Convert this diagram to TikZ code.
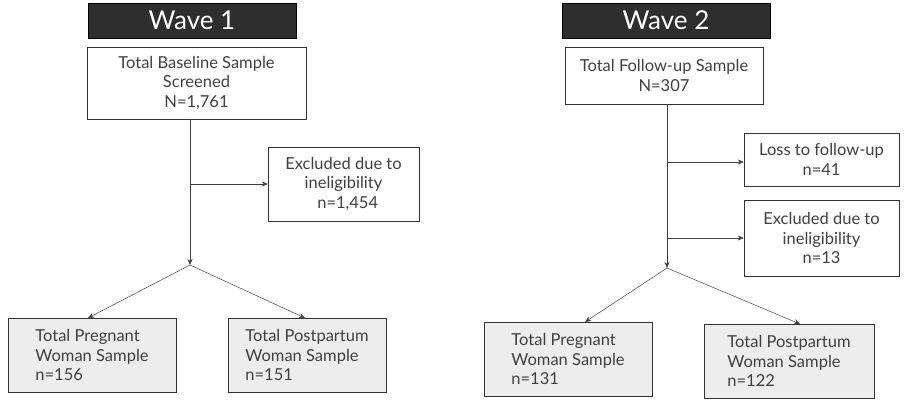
\documentclass[tikz,border=0pt]{standalone}
\usepackage{fontspec}
\setmainfont{Lato}
\usetikzlibrary{arrows.meta}
\begin{document}
\begin{tikzpicture}[x=1pt,y=-1pt,
  hdr/.style={draw=black,fill=black!82,text=white,font=\fontsize{26}{30}\selectfont,inner sep=0},
  box/.style={draw=black!80,fill=white,text=black!75,font=\fontsize{16.5}{19.5}\selectfont,align=center,inner sep=0},
  gbox/.style={box,fill=black!7},
  ar/.style={-{Stealth[length=6pt,width=5pt]},black!75,line width=0.5pt},
  ln/.style={black!75,line width=0.5pt}]
\useasboundingbox (0,0) rectangle (909,405);
% Wave 1
\node[hdr,minimum width=208,minimum height=35] (h1) at (192,20.5) {Wave 1};
\node[box,minimum width=219,minimum height=72] (a1) at (196.5,83) {Total Baseline Sample\\Screened\\N=1,761};
\coordinate (s1) at (190,265);
\coordinate (m1) at (190,184);
\node[box,minimum width=151,minimum height=74] (e1) at (343.5,184) {Excluded due to\\ineligibility\\\ \ n=1,454};
\node[gbox,minimum width=168,minimum height=74,align=left] (p1) at (92,355) {Total Pregnant\\Woman Sample\\n=156};
\node[gbox,minimum width=158,minimum height=74,align=left] (q1) at (307,355) {Total Postpartum\\Woman Sample\\n=151};
\draw[ar] (a1.south -| s1) -- (s1);
\draw[ar] (m1) -- (e1.west);
\draw[ar] (s1) -- (88,318) coordinate (t1);
\draw[ar] (s1) -- (305,318) coordinate (t2);
% Wave 2
\node[hdr,minimum width=208,minimum height=35] (h2) at (666,20.5) {Wave 2};
\node[box,minimum width=198,minimum height=57] (a2) at (664,75.5) {Total Follow-up Sample\\N=307};
\coordinate (s2) at (667,268);
\coordinate (m2) at (667,162);
\coordinate (m3) at (667,238);
\node[box,minimum width=155,minimum height=53] (l2) at (821.5,159.5) {Loss to follow-up\\n=41};
\node[box,minimum width=155,minimum height=76] (e2) at (821.5,238) {Excluded due to\\ineligibility\\n=13};
\node[gbox,minimum width=168,minimum height=74,align=left] (p2) at (568,359) {Total Pregnant\\Woman Sample\\n=131};
\node[gbox,minimum width=170,minimum height=74,align=left] (q2) at (789,361) {Total Postpartum\\Woman Sample\\n=122};
\draw[ar] (a2.south -| s2) -- (s2);
\draw[ar] (m2) -- (m2 -| l2.west);
\draw[ar] (m3) -- (m3 -| e2.west);
\draw[ar] (s2) -- (585,322) coordinate (t3);
\draw[ar] (s2) -- (800,324) coordinate (t4);
\end{tikzpicture}
\end{document}
